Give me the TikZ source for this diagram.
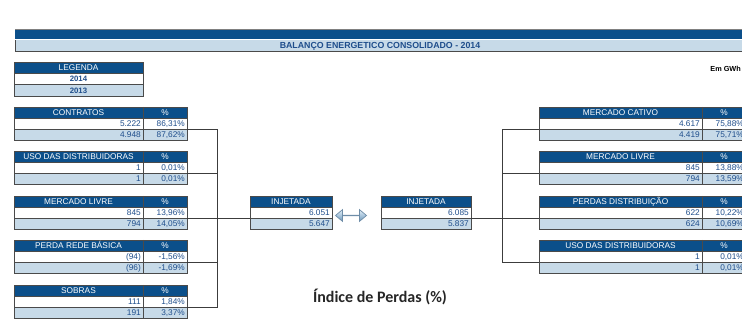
\documentclass[tikz,border=0pt]{standalone}
\usepackage{fontspec}
\setmainfont{Liberation Sans}
\newfontfamily\calib{Carlito}
\usetikzlibrary{shapes.arrows}
\definecolor{hdrblue}{HTML}{0B4F8A}
\definecolor{rowblue}{HTML}{C7DAE8}
\definecolor{txtblue}{HTML}{1F4E8C}
\definecolor{gridgray}{HTML}{4A4A4A}
\definecolor{linegray}{HTML}{3C3C3C}
\definecolor{arrdark}{HTML}{6A93B5}
\definecolor{arrmid}{HTML}{A8C5DC}
\definecolor{arrtop}{HTML}{E2EEF7}
\definecolor{arrline}{HTML}{6E8DA8}
\tikzset{
  tline/.style={draw=gridgray, line width=0.8pt},
  conn/.style={draw=linegray, line width=0.8pt},
  htxt/.style={inner sep=0pt, text=white, anchor=base, font=\fontsize{8.3}{9}\selectfont},
  vtxt/.style={inner sep=0pt, text=txtblue, anchor=base east, font=\fontsize{8.3}{9}\selectfont},
  btxt/.style={inner sep=0pt, text=txtblue, anchor=base, font=\bfseries\fontsize{7.8}{9}\selectfont},
}
\newcommand\setcols[3]{\def\cA{#1}\def\cB{#2}\def\cC{#3}}
\newcommand\dtbl[7]{%
  \fill[hdrblue] (\cA,#2) rectangle (\cC,#2+11);
  \fill[white] (\cA,#2+11) rectangle (\cC,#2+22);
  \fill[rowblue] (\cA,#2+22) rectangle (\cC,#2+33);
  \draw[tline] (\cA,#2) rectangle (\cC,#2+33);
  \draw[tline] (\cA,#2+11) -- (\cC,#2+11) (\cA,#2+22) -- (\cC,#2+22) (\cB,#2) -- (\cB,#2+33);
  \node[htxt] (#1-t) at ({(\cA+\cB)/2},#2+8.7) {#3};
  \node[htxt] (#1-p) at ({(\cB+\cC)/2},#2+8.7) {\%};
  \node[vtxt] (#1-v1) at (\cB-2,#2+19.6) {#4};
  \node[vtxt] (#1-p1) at (\cC-2,#2+19.6) {#5};
  \node[vtxt] (#1-v2) at (\cB-2,#2+30.6) {#6};
  \node[vtxt] (#1-p2) at (\cC-2,#2+30.6) {#7};
  \coordinate (#1-L) at (\cA,#2+22);
  \coordinate (#1-R) at (\cC,#2+22);
}
\newcommand\injbox[6]{% name, x0, x1, y0, v1, v2
  \fill[hdrblue] (#2,#4) rectangle (#3,#4+11);
  \fill[white] (#2,#4+11) rectangle (#3,#4+22);
  \fill[rowblue] (#2,#4+22) rectangle (#3,#4+33);
  \draw[tline] (#2,#4) rectangle (#3,#4+33);
  \draw[tline] (#2,#4+11) -- (#3,#4+11) (#2,#4+22) -- (#3,#4+22);
  \node[htxt] (#1-t) at ({(#2+#3)/2},#4+8.7) {INJETADA};
  \node[vtxt] (#1-v1) at (#3-2,#4+19.6) {#5};
  \node[vtxt] (#1-v2) at (#3-2,#4+30.6) {#6};
  \coordinate (#1-L) at (#2,#4+22);
  \coordinate (#1-R) at (#3,#4+22);
}
\begin{document}
\begin{tikzpicture}[x=1pt,y=-1pt]
\useasboundingbox (0,0) rectangle (742,320);
\fill[white] (0,0) rectangle (742,320);
% title bar
\draw[gridgray!70, line width=0.6pt] (15,29.5) -- (745,29.5);
\fill[hdrblue] (15,30) rectangle (745,39.5);
\fill[rowblue] (15,40.5) rectangle (745,51);
\draw[gridgray, line width=0.8pt] (15,40.5) -- (15,51) -- (745,51);
\node[btxt, font=\bfseries\fontsize{8.8}{10}\selectfont] (title) at (380,49) {BALANÇO ENERGETICO CONSOLIDADO - 2014};
\node[inner sep=0pt, anchor=base east, font=\bfseries\fontsize{7.3}{9}\selectfont] (gwh) at (741,72) {Em GWh};
% legend
\fill[hdrblue] (14,62) rectangle (143,73);
\fill[white] (14,73) rectangle (143,84.5);
\fill[rowblue] (14,84.5) rectangle (143,96);
\draw[tline] (14,62) rectangle (143,96);
\draw[tline] (14,73) -- (143,73) (14,84.5) -- (143,84.5);
\node[htxt] (leg) at (78.5,70.7) {LEGENDA};
\node[btxt] (l14) at (78.5,81.8) {2014};
\node[btxt] (l13) at (78.5,93.3) {2013};
% left tables
\setcols{14}{143}{187}
\dtbl{con}{107}{CONTRATOS}{5.222}{86,31\%}{4.948}{87,62\%}
\dtbl{usoL}{151}{USO DAS DISTRIBUIDORAS}{1}{0,01\%}{1}{0,01\%}
\dtbl{mlL}{196}{MERCADO LIVRE}{845}{13,96\%}{794}{14,05\%}
\dtbl{prb}{240}{PERDA REDE BÁSICA}{(94)}{-1,56\%}{(96)}{-1,69\%}
\dtbl{sob}{285}{SOBRAS}{111}{1,84\%}{191}{3,37\%}
% right tables
\setcols{539}{702}{746}
\dtbl{cat}{107}{MERCADO CATIVO}{4.617}{75,88\%}{4.419}{75,71\%}
\dtbl{mlR}{151}{MERCADO LIVRE}{845}{13,88\%}{794}{13,59\%}
\dtbl{pd}{196}{PERDAS DISTRIBUIÇÃO}{622}{10,22\%}{624}{10,69\%}
\dtbl{usoR}{240}{USO DAS DISTRIBUIDORAS}{1}{0,01\%}{1}{0,01\%}
% injetada boxes
\injbox{injL}{250}{332}{196}{6.051}{5.647}
\injbox{injR}{381}{471}{196}{6.085}{5.837}
% arrow
\node[double arrow, draw=arrline, line width=0.7pt,
      top color=arrtop, bottom color=arrdark, middle color=arrmid,
      minimum height=31pt, minimum width=7pt, double arrow head extend=5.5pt,
      double arrow tip angle=80, inner sep=0pt] (arr) at (351,215.5) {};
% connectors left
\coordinate (lv1) at (217,129);
\coordinate (lv2) at (217,307);
\draw[conn] (con-R) -- (lv1) -- (lv2) -- (sob-R);
\draw[conn] (usoL-R) -- (usoL-R -| lv1);
\draw[conn] (prb-R) -- (prb-R -| lv1);
\draw[conn] (mlL-R) -- (injL-L);
% connectors right
\coordinate (rv1) at (502,129);
\coordinate (rv2) at (502,262);
\draw[conn] (cat-L) -- (rv1) -- (rv2) -- (usoR-L);
\draw[conn] (mlR-L) -- (mlR-L -| rv1);
\draw[conn] (injR-R) -- (pd-L);
% caption
\node[inner sep=0pt, text=black!85, font=\calib\bfseries\fontsize{16}{18}\selectfont] (idx) at (380,297) {Índice de Perdas (\%)};
\end{tikzpicture}
\end{document}
